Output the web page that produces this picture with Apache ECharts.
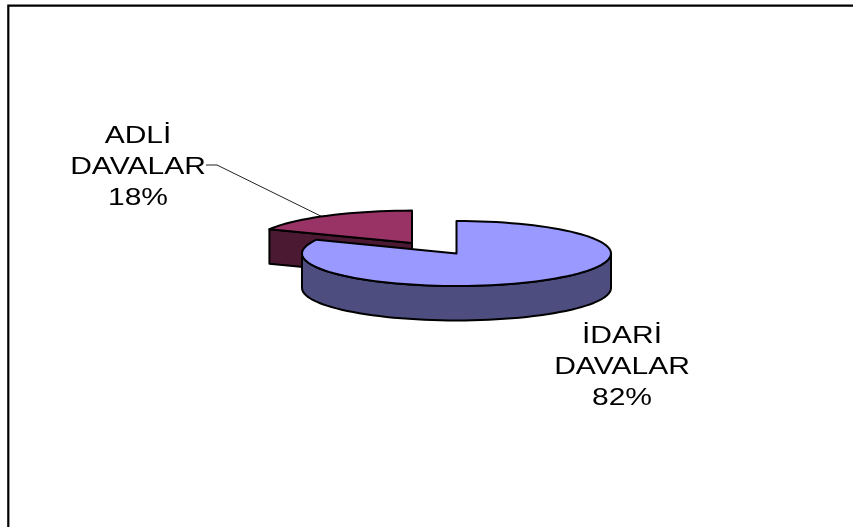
<!DOCTYPE html>
<html><head><meta charset="utf-8">
<style>html,body{margin:0;padding:0;background:#fff}#c{width:853px;height:527px}</style>
<script src="https://cdn.jsdelivr.net/npm/echarts@6/dist/echarts.min.js"></script>
</head><body><div id="c"></div>
<script>
const categories = ['ADLİ', 'İDARİ'];
const labelSuffix = 'DAVALAR';
const values = [18, 82];
const startShares = [82, 0];
const topColors = ['#993366', '#9999FF'];
const sideColors = ['#4C1933', '#4D4D80'];
const explodeX = [-0.288, 0];
const explodeY = [0.32, 0];
const stretchX = [1.02, 1];
const labelX = [138, 622];
const labelY = [136, 336];
const depth = 1.06;
const FONT = '24px "Liberation Sans", Arial, sans-serif';

const chart = echarts.init(document.getElementById('c'), null, {renderer: 'canvas'});

function pt(api, i, deg, r, dz) {
  const a = deg * Math.PI / 180;
  return api.coord([explodeX[i] + stretchX[i] * r * Math.sin(a), explodeY[i] + r * Math.cos(a) - dz]);
}
function arc(api, i, from, to, dz) {
  const out = [], n = Math.max(2, Math.ceil(Math.abs(to - from) / 3));
  for (let k = 0; k <= n; k++) out.push(pt(api, i, from + (to - from) * k / n, 1, dz));
  return out;
}
function renderItem(params, api) {
  const i = params.dataIndex;
  const v = api.value(2);
  const from = startShares[i] * 3.6, to = from + v * 3.6;
  const line = {stroke: '#000', lineWidth: 2, lineJoin: 'round'};
  const children = [];
  const sideS = Object.assign({fill: sideColors[i]}, line);
  if (i === 0) {
    // cut face in front of the exploded slice, and its leader line
    const a = pt(api, i, from, 0, 0), b = pt(api, i, from, 1, 0);
    const c = pt(api, i, from, 1, depth), d = pt(api, i, from, 0, depth);
    children.push({type: 'polygon', shape: {points: [a, b, c, d]}, style: sideS});
    const e = pt(api, i, 325, 1, 0);
    children.push({type: 'polyline', shape: {points: [[labelX[i] + 68, labelY[i] + 29], [217, labelY[i] + 29], e]},
      style: {stroke: '#222', lineWidth: 1, fill: null}});
  } else {
    // visible outer wall of the large slice
    const top = arc(api, i, 90, 270, 0);
    const bot = arc(api, i, 270, 90, depth);
    children.push({type: 'polygon', shape: {points: top.concat(bot)}, style: sideS});
  }
  const face = arc(api, i, from, to, 0);
  face.push(pt(api, i, 0, 0, 0));
  children.push({type: 'polygon', shape: {points: face},
    style: Object.assign({fill: topColors[i]}, line)});
  [categories[i], labelSuffix, v + '%'].forEach(function (t, k) {
    children.push({type: 'text', x: labelX[i], y: labelY[i] + k * 31, scaleX: 1.25, scaleY: 1,
      originX: 0, originY: 0,
      style: {text: t, font: FONT, fill: '#000', align: 'center', verticalAlign: 'middle'}});
  });
  return {type: 'group', children: children};
}

chart.setOption({
  animation: false,
  backgroundColor: '#fff',
  grid: {left: 302, width: 309, top: 221, height: 65},
  xAxis: {type: 'value', min: -1, max: 1, show: false},
  yAxis: {type: 'value', min: -1, max: 1, show: false},
  graphic: [{type: 'rect', shape: {x: 8.3, y: 5.7, width: 900, height: 600},
    style: {fill: 'none', stroke: '#000', lineWidth: 2.2}, z: -10}],
  series: [{
    type: 'custom', coordinateSystem: 'cartesian2d', renderItem: renderItem, clip: false,
    encode: {x: 0, y: 1},
    data: values.map(function (v, i) { return {name: categories[i] + ' ' + labelSuffix, value: [explodeX[i], explodeY[i], v]}; })
  }]
});
</script></body></html>
